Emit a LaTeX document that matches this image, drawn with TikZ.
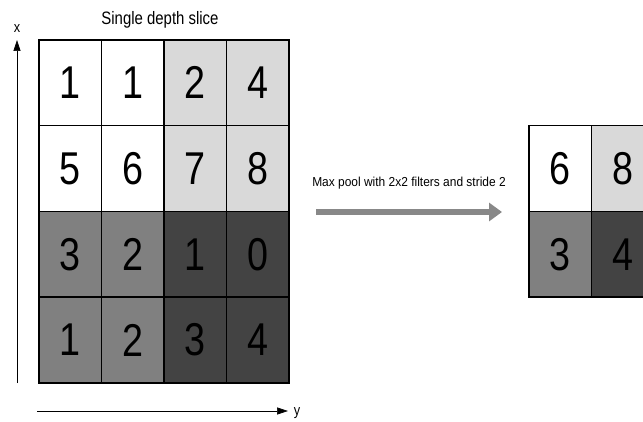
\documentclass[tikz,border=0pt]{standalone}
\usepackage{fontspec}
\setmainfont{Liberation Sans}
\newfontfamily\titlefont[FakeStretch=0.83]{Liberation Sans}
\newfontfamily\labelfont[FakeStretch=0.92]{Liberation Sans}
\newfontfamily\axisfont[FakeStretch=0.85]{Liberation Sans}
\newfontfamily\digitfont[FakeStretch=0.82]{Liberation Sans}
\usetikzlibrary{arrows.meta}
\definecolor{cwhite}{HTML}{FFFFFF}
\definecolor{clight}{HTML}{D9D9D9}
\definecolor{cmid}{HTML}{808080}
\definecolor{cdark}{HTML}{434343}
\definecolor{carrow}{HTML}{888888}
\begin{document}
\begin{tikzpicture}[x=1pt,y=-1pt,
  cell/.style={draw=black, line width=1.5pt, minimum width=62.5pt, minimum height=85.75pt,
    inner sep=0pt, anchor=center, font=\digitfont\fontsize{46}{46}\selectfont},
  axisline/.style={line width=0.6pt, -{Triangle[length=11pt,width=7pt]}},
  axislabel/.style={font=\axisfont\fontsize{15}{15}\selectfont, inner sep=0pt}]
\useasboundingbox (0,0) rectangle (643,422);
\clip (0,0) rectangle (643,422);
% left grid
\foreach \r/\row in {1/{1,1,2,4}, 2/{5,6,7,8}, 3/{3,2,1,0}, 4/{1,2,3,4}}{
  \foreach \v [count=\c] in \row {
    \pgfmathsetmacro{\cx}{39+62.5*(\c-0.5)}
    \pgfmathsetmacro{\cy}{40+85.75*(\r-0.5)}
    \ifnum\r<3
      \ifnum\c<3 \def\fc{cwhite}\else\def\fc{clight}\fi
    \else
      \ifnum\c<3 \def\fc{cmid}\else\def\fc{cdark}\fi
    \fi
    \node[cell, fill=\fc] (L\r\c) at (\cx,\cy) {\v};
  }
}
% right grid
\node[cell, fill=cwhite] (R11) at (560.25,168.625) {6};
\node[cell, fill=clight] (R12) at (622.75,168.625) {8};
\node[cell, fill=cmid]   (R21) at (560.25,254.375) {3};
\node[cell, fill=cdark]  (R22) at (622.75,254.375) {4};
% title
\node[font=\titlefont\fontsize{18}{18}\selectfont, inner sep=0pt] (title) at (160,20) {Single depth slice};
% axes
\coordinate (xb) at (17,383);
\coordinate (xt) at (17,40);
\draw[axisline] (xb) -- (xt);
\node[axislabel] (xlab) at (17,29) {x};
\coordinate (yl) at (37,411);
\coordinate (yr) at (288,411);
\draw[axisline] (yl) -- (yr);
\node[axislabel] (ylab) at (297,413) {y};
% pooling arrow
\coordinate (pa) at (316,212);
\coordinate (pb) at (502,212);
\draw[line width=6pt, carrow, -{Triangle[length=13pt,width=18pt]}] (pa) -- (pb);
\node[font=\labelfont\fontsize{13}{13}\selectfont, inner sep=0pt] (plab) at (409,183) {Max pool with 2x2 filters and stride 2};
\end{tikzpicture}
\end{document}
